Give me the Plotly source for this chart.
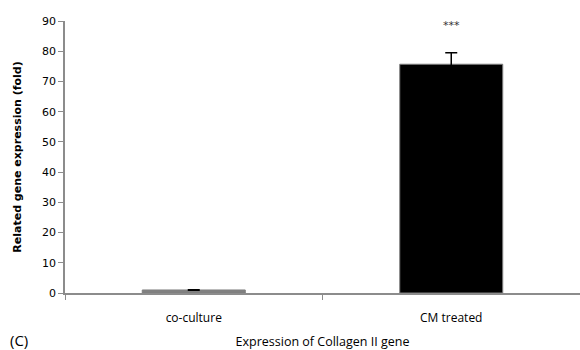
import plotly.graph_objects as go

categories = ["co-culture", "CM treated"]
values = [1.0, 75.7]
errors = [0.1, 3.8]
bar_colors = ["#808080", "#000000"]
y_ticks = [0, 10, 20, 30, 40, 50, 60, 70, 80, 90]
significance = "***"

fig = go.Figure()
fig.add_trace(go.Bar(
    x=categories, y=values,
    marker=dict(color=bar_colors, line=dict(color="#7f7f7f", width=1)),
    width=0.4,
    error_y=dict(type="data", array=errors, visible=True, color="#000000", thickness=1.5, width=6),
))
fig.add_annotation(x=1, y=88.5, text=significance, showarrow=False,
                   font=dict(family="DejaVu Sans", size=11, color="#333333"))
fig.add_annotation(x=-0.111, y=-0.173, xref="paper", yref="paper", text="(C)", showarrow=False,
                   xanchor="left", yanchor="middle", font=dict(family="Open Sans", size=15, color="#000000"))

fig.update_layout(
    width=580, height=350,
    margin=dict(l=65, r=0, t=21, b=57),
    plot_bgcolor="white", paper_bgcolor="white",
    showlegend=False,
    font=dict(family="Open Sans", color="#000000"),
)
fig.update_xaxes(
    type="category", range=[-0.5, 1.5], automargin=False,
    showline=True, linecolor="#8c8c8c", linewidth=1.5,
    ticks="outside", tickson="boundaries", ticklen=5, tickcolor="#8c8c8c",
    tickfont=dict(family="Open Sans", size=12, color="#000000"),
    ticklabelstandoff=13,
    title=dict(text="Expression of Collagen II gene", font=dict(family="Open Sans", size=12.5, color="#000000"), standoff=12),
    showgrid=False,
)
fig.update_yaxes(
    range=[0, 90], tickvals=y_ticks, automargin=False,
    showline=True, linecolor="#8c8c8c", linewidth=1.5,
    ticks="outside", ticklen=5, tickcolor="#8c8c8c",
    tickfont=dict(family="DejaVu Sans", size=11, color="#000000"),
    title=dict(text="<b>Related gene expression (fold)</b>", font=dict(family="DejaVu Sans", size=11, color="#000000"), standoff=18),
    showgrid=False, zeroline=False,
)

fig.write_html("out.html", config={"displayModeBar": False},
               post_script="document.body.style.margin='0';")
